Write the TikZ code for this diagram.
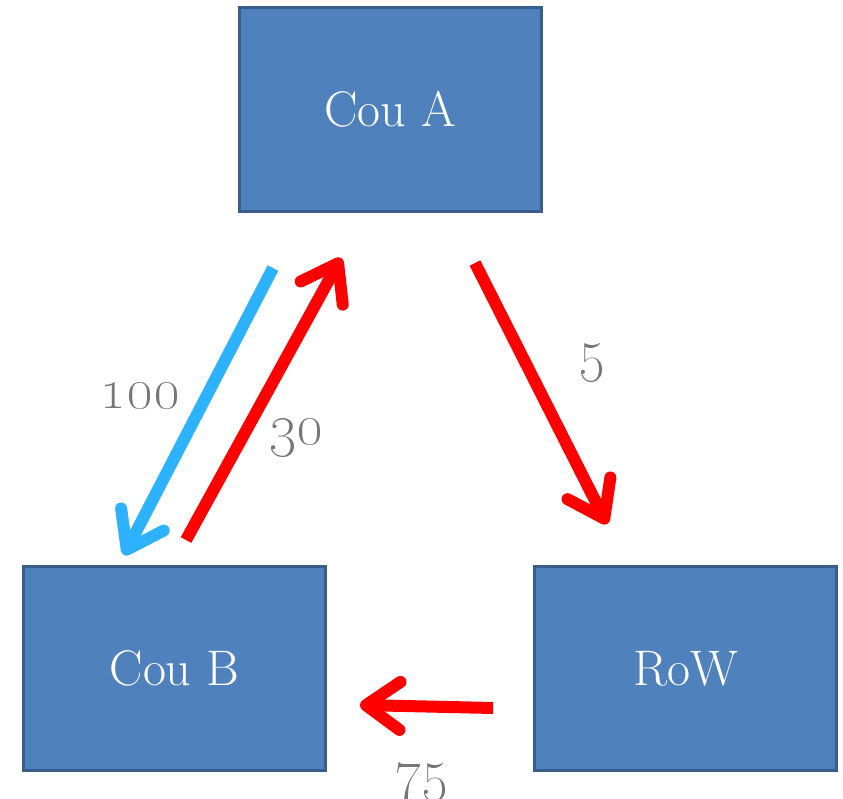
\documentclass[tikz,border=0pt]{standalone}
\usetikzlibrary{arrows.meta}
\definecolor{boxblue}{HTML}{4F81BD}
\definecolor{boxline}{HTML}{385D8A}
\definecolor{flowblue}{HTML}{2DB2FF}
\definecolor{numgray}{HTML}{767676}

\begin{document}
\begin{tikzpicture}[x=0.5pt,y=-0.5pt]

\tikzstyle{box}=[rectangle,fill=boxblue,draw=boxline,line width=1.5pt,
	minimum width=151pt,minimum height=102pt,text=white,
	font=\fontsize{25}{30}\selectfont]
\tikzstyle{flow}=[line width=6pt,-{Straight Barb[round,length=17pt,width=24pt]}]
\tikzstyle{lbl}=[text=numgray,font=\fontsize{28}{32}\selectfont]

\useasboundingbox (0,0) rectangle (843,799);

\node[box](A) at (390,109){Cou A};
\node[box](B) at (174.5,668.5){Cou B};
\node[box](R) at (685.5,668.5){RoW};

\coordinate (ab1) at (273,268);
\coordinate (ab2) at (124,555);
\coordinate (ba1) at (186,540);
\coordinate (ba2) at (341,258);
\coordinate (ar1) at (475,263);
\coordinate (ar2) at (607,524);
\coordinate (rb1) at (493,708);
\coordinate (rb2) at (360,705);

\draw[flow,flowblue](ab1)--(ab2);
\draw[flow,red](ba1)--(ba2);
\draw[flow,red](ar1)--(ar2);
\draw[flow,red](rb1)--(rb2);

\node[lbl](n100) at (140,396){\oldstylenums{100}};
\node[lbl](n30) at (296,438){\oldstylenums{30}};
\node[lbl](n5) at (592,363){\oldstylenums{5}};
\node[lbl](n75) at (421,783){\oldstylenums{75}};

\end{tikzpicture}
\end{document}
